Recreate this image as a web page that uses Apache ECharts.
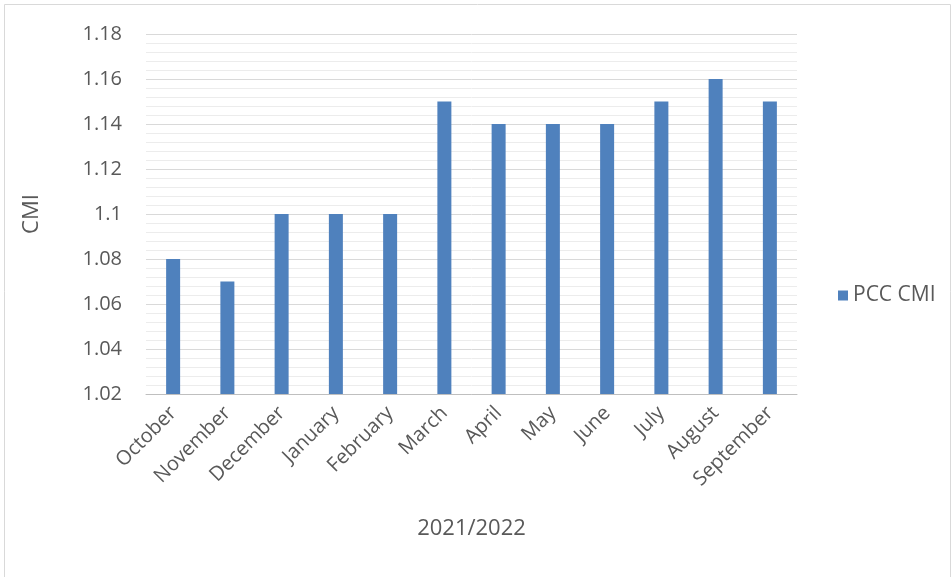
<!DOCTYPE html>
<html>
<head>
<meta charset="utf-8">
<script src="https://cdn.jsdelivr.net/npm/echarts@6/dist/echarts.min.js"></script>
<style>html,body{margin:0;padding:0;background:#fff;}#c{width:952px;height:577px;}</style>
</head>
<body>
<div id="c"></div>
<script>
const categories = ["October","November","December","January","February","March","April","May","June","July","August","September"];
const pccCmi = [1.08,1.07,1.10,1.10,1.10,1.15,1.14,1.14,1.14,1.15,1.16,1.15];
const yTicks = [1.02,1.04,1.06,1.08,1.1,1.12,1.14,1.16,1.18];

const chart = echarts.init(document.getElementById('c'));
const font = "'Open Sans', 'Noto Sans', sans-serif";
chart.setOption({
  animation: false,
  textStyle: { fontFamily: font },
  graphic: [{ type: 'rect', shape: { x: 4.5, y: 4.5, width: 946, height: 576 }, style: { fill: 'none', stroke: '#d9d9d9', lineWidth: 1 } }],
  grid: { left: 146, right: 155, top: 34, bottom: 183 },
  legend: {
    data: ['PCC CMI'], orient: 'vertical', left: 833, top: 280,
    itemWidth: 10, itemHeight: 10, icon: 'rect', itemGap: 6,
    textStyle: { fontSize: 21, color: '#595959', fontFamily: font }
  },
  xAxis: {
    type: 'category', data: categories,
    name: '2021/2022', nameLocation: 'middle', nameGap: 124,
    nameTextStyle: { fontSize: 22, color: '#595959' },
    axisLine: { lineStyle: { color: '#bfbfbf' } },
    axisTick: { show: false },
    axisLabel: { rotate: 45, fontSize: 20, color: '#595959', margin: 16, interval: 0 }
  },
  yAxis: {
    type: 'value', min: yTicks[0], max: yTicks[yTicks.length - 1], interval: 0.02,
    name: 'CMI', nameLocation: 'middle', nameGap: 103,
    nameTextStyle: { fontSize: 22, color: '#595959' },
    axisLine: { show: false }, axisTick: { show: false },
    axisLabel: { fontSize: 20, color: '#595959', margin: 24, formatter: v => String(+v.toFixed(2)) },
    splitLine: { lineStyle: { color: '#d9d9d9' } },
    minorTick: { show: false, splitNumber: 5 },
    minorSplitLine: { show: true, lineStyle: { color: '#ececec' } }
  },
  series: [{
    name: 'PCC CMI', type: 'bar', data: pccCmi, barWidth: 14,
    itemStyle: { color: '#4f81bd' }
  }]
});
</script>
</body>
</html>
